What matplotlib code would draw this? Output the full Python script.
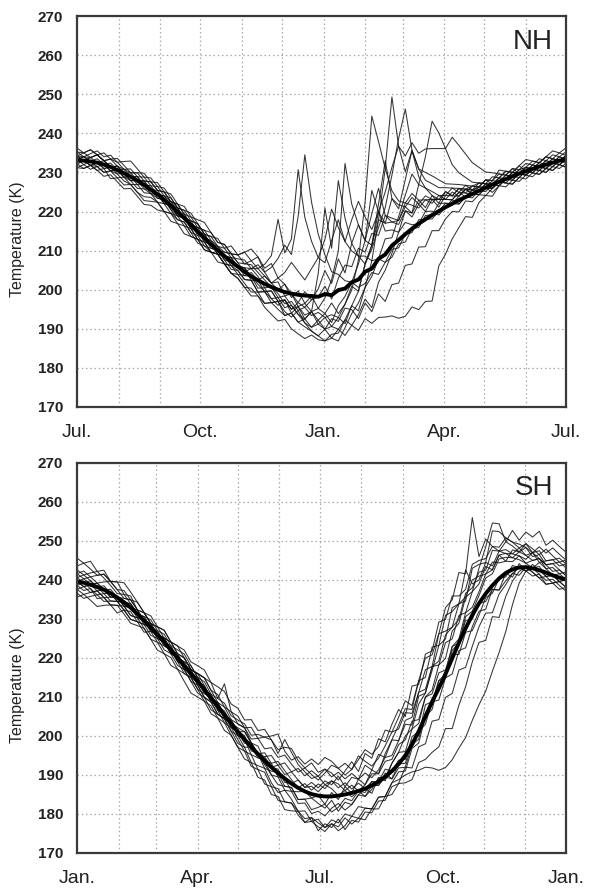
"""Daily polar temperature, individual years and their mean, NH and SH"""
import matplotlib
matplotlib.use('Agg')
import matplotlib.pyplot as plt
import numpy as np

plt.rcParams['font.family'] = ['Liberation Sans', 'DejaVu Sans']

# sample days (every 5 days through one year)
DAYS = np.arange(0, 366, 5)

# ── NH: year runs Jul -> Jul ──────────────────────────
NH_MONTH_DAYS = [0, 31, 62, 92, 123, 153, 184, 215, 243, 274, 304, 335, 365]
NH_TICK_DAYS = [0, 92, 184, 274, 365]
NH_TICK_LABELS = ['Jul.', 'Oct.', 'Jan.', 'Apr.', 'Jul.']

NH_MEAN = [
    233.2, 233.0, 232.8, 232.5, 232.0, 231.4, 230.6, 229.8, 228.9, 227.9, 226.8, 225.6,
    224.4, 223.0, 221.5, 219.9, 218.3, 216.6, 214.9, 213.2, 211.6, 210.1, 208.6, 207.2,
    205.9, 204.6, 203.4, 202.4, 201.5, 200.7, 200.0, 199.4, 199.0, 198.7, 198.5, 198.4,
    198.2, 198.9, 198.6, 199.9, 200.3, 201.9, 202.6, 204.6, 205.4, 207.9, 209.0, 211.3,
    212.7, 214.2, 215.6, 216.9, 218.0, 219.1, 220.1, 221.1, 222.0, 222.9, 223.7, 224.5,
    225.3, 226.1, 226.9, 227.6, 228.3, 229.0, 229.7, 230.3, 230.9, 231.5, 232.0, 232.5, 233.0, 233.3,
]

# departure of each year from the mean (K)
NH_YEAR_DEV = [
    [1, 1, 0, 1, 0, -1, -1, -2, -2, -3, -3, -2,
     -2, -3, -2, -2, -1, -2, -1, -2, -2, -1, -2, -3,
     -3, -4, -3, -4, -5, -4, -5, -6, -5, -7, -8, -9,
     -10, -9, -11, -10, -12, -11, -13, -12, -14, -15, -16, -18,
     -20, -21, -20, -22, -21, -22, -14, -12, -9, -7, -5, -6,
     -3, -2, -3, -1, -2, -1, 0, -1, 0, 1, 0, 1, 0, 1],
    [0, 1, 1, 2, 1, 2, 1, 1, 0, 1, 0, 0,
     1, 0, 1, 1, 2, 1, 2, 1, 0, 1, 1, 2,
     1, 2, 3, 2, 1, 0, -1, -3, -2, -4, -3, -5,
     -4, -6, -5, -7, -4, -2, 5, 18, 39, 30, 22, 14,
     10, 8, 9, 6, 5, 4, 3, 4, 2, 3, 2, 2,
     1, 2, 1, 0, 1, 0, 1, 2, 1, 0, 1, 0, 1, 0],
    [-1, 0, -1, 0, -1, 0, 0, -1, 0, 0, 1, 0,
     0, 1, 0, -1, 0, 0, 1, 0, 1, 0, -1, 0,
     0, 1, 0, -1, -2, -3, -2, -4, -3, -5, -6, -4,
     -7, -6, -8, -7, -9, -6, -8, -4, 2, 10, 22, 38,
     24, 16, 20, 14, 12, 10, 8, 6, 5, 4, 3, 2,
     2, 1, 2, 1, 0, 1, 0, -1, 0, -1, 0, -1, 0, 0],
    [2, 2, 3, 2, 3, 2, 2, 1, 2, 1, 2, 1,
     2, 1, 1, 2, 1, 0, 1, 2, 1, 1, 2, 1,
     2, 3, 2, 4, 3, 5, 8, 12, 10, 20, 36, 24,
     16, 10, 6, 4, 2, 0, -2, -3, -1, -4, -2, -3,
     -1, -2, 0, -1, 1, 0, 2, 1, 0, 1, 2, 1,
     1, 0, 1, 2, 1, 2, 1, 1, 2, 1, 2, 1, 2, 1],
    [0, -1, 0, -1, -2, -1, -2, -1, -1, -2, -1, -1,
     -1, 0, -1, -1, 0, -1, 0, 1, 0, -1, 0, 1,
     0, 1, 2, 3, 5, 8, 18, 10, 14, 32, 20, 14,
     10, 14, 22, 16, 12, 8, 6, 4, 2, 0, -2, -1,
     -2, 0, -1, 1, 0, -1, 0, 1, 0, -1, 0, 1,
     0, -1, 0, -1, 0, 1, 0, -1, 0, 0, -1, 0, -1, 0],
    [1, 0, 1, 0, 0, 1, 0, 1, 1, 0, 1, 2,
     1, 2, 1, 0, 1, 0, -1, 0, -1, 0, -1, -2,
     -1, -2, -1, -3, -2, -4, -3, -5, -6, -4, -7, -8,
     -6, -9, -8, -10, -8, -11, -9, -7, -10, -6, -4, -2,
     2, 6, 4, 10, 16, 24, 20, 15, 10, 7, 5, 3,
     2, 1, 0, 1, 0, -1, 0, -1, -2, -1, -2, -1, 0, -1],
    [-2, -2, -1, -2, -3, -2, -3, -4, -3, -4, -5, -4,
     -4, -3, -4, -3, -2, -3, -2, -1, -2, -1, 0, -1,
     0, -1, 1, 0, 2, 1, 3, 2, 0, -2, 1, -1,
     2, 6, 3, 8, 4, 10, 6, 2, 5, 8, 12, 18,
     26, 32, 20, 14, 10, 8, 6, 5, 4, 3, 2, 1,
     1, 0, -1, 0, -1, -2, -1, -2, -1, -2, -1, -2, -1, -2],
    [0, 1, 0, 0, -1, 0, 1, 0, -1, 0, 1, 0,
     0, -1, -2, -1, -2, -1, -2, -3, -2, -1, -2, -1,
     -2, -1, 0, -2, -1, -3, -4, -2, -5, -3, -6, -4,
     6, 22, 12, 28, 18, 10, 14, 8, 20, 12, 6, 4,
     2, 3, 1, 0, 2, 1, -1, 0, 1, -1, 0, -1,
     0, 1, -1, 0, 1, 0, -1, 0, 1, 0, -1, 0, 1, 0],
    [-1, -2, -1, -2, -1, -3, -2, -3, -2, -3, -4, -3,
     -2, -3, -2, -3, -4, -3, -2, -3, -2, -1, -2, -3,
     -3, -4, -5, -4, -6, -7, -8, -7, -9, -10, -11, -10,
     -11, -12, -10, -11, -8, -6, -3, 2, 6, 10, 8, 12,
     9, 7, 8, 5, 6, 4, 3, 2, 1, 2, 1, 0,
     -1, 0, -1, 0, -1, 0, 1, 0, -1, 0, 1, 0, -1, 0],
    [2, 1, 2, 3, 2, 3, 2, 3, 4, 3, 2, 3,
     2, 3, 2, 1, 2, 3, 2, 1, 2, 3, 2, 4,
     3, 5, 7, 6, 4, 6, 3, 5, 8, 6, 4, 7,
     10, 8, 14, 18, 12, 16, 20, 14, 10, 12, 8, 6,
     5, 7, 4, 6, 3, 5, 2, 4, 2, 3, 1, 2,
     1, 2, 1, 3, 2, 1, 2, 3, 2, 1, 2, 3, 2, 3],
    [0, 0, -1, 0, 1, 0, -1, 0, 0, -1, 0, -1,
     0, -1, 0, 1, 0, 1, 2, 1, 2, 1, 0, 1,
     0, 1, -1, 0, -2, -1, -3, -2, -4, -3, -5, -4,
     -6, -5, -7, -4, -2, 0, 4, 8, 6, 12, 16, 20,
     24, 20, 22, 18, 18, 17, 16, 15, 17, 14, 11, 8,
     6, 4, 3, 2, 1, 2, 0, 1, -1, 0, -1, 0, -1, 0],
    [1, 2, 1, 2, 1, 0, 1, 0, 1, 2, 1, 2,
     3, 2, 3, 2, 1, 2, 1, 2, 3, 2, 3, 2,
     1, 0, 2, 1, -1, 0, -2, -1, 0, -3, -2, -4,
     -3, -5, -2, -6, -4, -1, -3, 2, 6, 14, 24, 12,
     8, 14, 20, 12, 8, 6, 4, 3, 4, 2, 3, 1,
     2, 1, 0, 1, 2, 1, 0, 1, 0, 1, 2, 1, 0, 1],
    [-1, 0, -1, -1, 0, -1, 0, -1, -2, -1, -2, -1,
     -2, -1, 0, -1, 0, -1, -2, -1, -2, -3, -2, -3,
     -2, -3, -4, -3, -5, -4, -3, -6, -5, -7, -6, -8,
     -7, -9, -6, -8, -5, -7, -10, -8, -11, -9, -12, -10,
     -11, -8, -9, -6, -7, -4, -5, -3, -2, -3, -1, -2,
     -1, -2, -1, 0, -1, -2, -1, 0, -1, -2, -1, -2, -1, -2],
    [3, 2, 3, 2, 1, 2, 3, 2, 1, 2, 3, 2,
     1, 2, 1, 2, 3, 2, 3, 4, 3, 2, 3, 2,
     3, 2, 4, 3, 2, 1, 0, 2, -1, 1, -2, 0,
     -3, -1, 4, 10, 32, 20, 14, 8, 14, 18, 10, 6,
     4, 6, 3, 5, 2, 4, 1, 3, 2, 1, 2, 0,
     1, 2, 0, 1, 2, 1, 2, 0, 1, 2, 1, 2, 1, 2],
    [-2, -1, -2, -1, -2, -1, 0, -1, 0, 1, 0, 1,
     0, 1, 2, 1, 0, 1, 0, -1, 0, -1, -2, -1,
     -1, -2, -1, -3, -2, -1, -3, -2, -4, -2, -3, -1,
     0, 2, -1, 3, 6, 4, 8, 5, 9, 6, 10, 7,
     5, 8, 6, 4, 5, 3, 4, 2, 3, 1, 2, 0,
     -1, 0, -2, -1, 0, -1, -2, -1, 0, -1, -2, -1, -2, -1],
    [1, 0, 1, 2, 1, 0, 1, 0, -1, 0, -1, 0,
     -1, 0, -1, -2, -1, -2, -3, -2, -1, 0, 1, 2,
     3, 5, 4, 6, 3, 1, 2, -1, -3, -5, -7, -9,
     -10, -12, -11, -13, -10, -8, -6, -4, -2, 0, 4, 2,
     6, 10, 14, 10, 8, 5, 3, 2, 1, 2, 0, 1,
     0, 1, 0, -1, 0, 1, 0, 1, 0, -1, 0, 1, 0, 1],
]

# ── SH: year runs Jan -> Jan ──────────────────────────
SH_MONTH_DAYS = [0, 31, 59, 90, 120, 151, 181, 212, 243, 273, 304, 334, 365]
SH_TICK_DAYS = [0, 90, 181, 273, 365]
SH_TICK_LABELS = ['Jan.', 'Apr.', 'Jul.', 'Oct.', 'Jan.']

SH_MEAN = [
    239.6, 239.3, 238.8, 238.2, 237.5, 236.6, 235.5, 234.3, 232.9, 231.3, 229.6, 227.8,
    226.0, 224.1, 222.1, 220.1, 218.0, 216.0, 214.0, 211.9, 209.7, 207.6, 205.4, 203.2,
    201.1, 199.1, 197.2, 195.4, 193.7, 192.0, 190.5, 189.1, 187.8, 186.7, 185.8, 185.1,
    184.7, 184.5, 184.5, 184.7, 185.0, 185.4, 185.9, 186.5, 187.3, 188.3, 189.5, 191.0,
    192.8, 195.0, 197.8, 201.2, 205.0, 208.8, 212.2, 215.9, 219.9, 223.9, 227.6, 231.0,
    234.0, 236.5, 238.6, 240.4, 241.8, 242.7, 243.2, 243.3, 243.0, 242.5, 241.9, 241.2, 240.6, 240.1,
]

SH_YEAR_DEV = [
    [-1, -2, -1, -3, -2, -3, -2, -3, -4, -3, -2, -3,
     -2, -3, -4, -3, -4, -5, -4, -3, -4, -3, -2, -3,
     -4, -3, -5, -4, -6, -5, -7, -6, -5, -6, -7, -6,
     -7, -8, -6, -7, -5, -6, -4, -5, -6, -4, -5, -3,
     -4, -5, -7, -10, -13, -17, -21, -24, -26, -27, -28, -27,
     -26, -25, -22, -19, -15, -9, -4, -1, 0, 1, -1, 0, -1, 0],
    [1, 0, 1, 0, -1, 0, -1, 0, 1, 0, -1, 0,
     1, 0, -1, 0, 1, 0, -1, -2, -1, -2, -1, -2,
     -3, -2, -4, -3, -2, -4, -5, -3, -4, -6, -5, -7,
     -6, -8, -7, -9, -8, -6, -7, -8, -6, -7, -5, -6,
     -5, -7, -9, -8, -11, -13, -15, -14, -18, -16, -15, -12,
     -10, -12, -8, -10, -6, -3, -1, 0, -1, -2, -1, -2, -1, -2],
    [4, 5, 4, 3, 4, 3, 4, 5, 4, 3, 2, 3,
     2, 3, 2, 1, 2, 1, 2, 3, 2, 3, 2, 1,
     2, 3, 2, 4, 3, 5, 4, 6, 5, 4, 6, 5,
     4, 6, 8, 7, 5, 6, 8, 10, 8, 9, 12, 10,
     12, 14, 10, 13, 15, 12, 14, 17, 15, 18, 14, 25,
     12, 14, 10, 8, 9, 7, 6, 5, 4, 5, 3, 4, 5, 4],
    [0, -1, 0, 1, 0, -1, 0, -1, -2, -1, 0, -1,
     0, 1, 0, -1, 0, 1, 2, 1, 0, 1, 0, -1,
     0, 1, -1, 0, -2, -1, 0, -2, -1, -3, -2, -1,
     -2, -3, -1, -4, -2, -3, -1, 0, -2, 1, -1, 2,
     3, 1, 4, 2, 5, 3, 6, 4, 7, 5, 8, 6,
     9, 12, 16, 14, 8, 6, 4, 3, 2, 3, 1, 2, 1, 2],
    [-2, -3, -2, -1, -2, -1, 0, -1, 0, 1, 0, -1,
     0, -1, 0, 1, 2, 1, 2, 3, 2, 1, 2, 3,
     4, 3, 5, 4, 6, 8, 10, 7, 6, 8, 7, 9,
     8, 10, 9, 7, 8, 6, 9, 7, 5, 6, 8, 10,
     9, 11, 8, 10, 7, 9, 6, 8, 5, 7, 4, 6,
     5, 7, 4, 6, 3, 5, 4, 6, 5, 4, 6, 5, 4, 5],
    [2, 3, 2, 3, 4, 3, 2, 3, 2, 1, 2, 1,
     0, 1, 0, -1, -2, -1, -2, -3, -2, -3, -4, -3,
     -4, -5, -4, -6, -5, -7, -6, -8, -7, -6, -8, -7,
     -8, -9, -7, -8, -6, -8, -7, -5, -6, -4, -5, -3,
     -2, -4, -1, -3, 0, -2, 1, -1, 2, 0, 3, 1,
     2, 4, 3, 5, 4, 3, 2, 1, 0, -1, -2, -1, -2, -3],
    [0, 1, 2, 1, 2, 3, 2, 1, 2, 3, 2, 1,
     2, 1, 2, 3, 2, 1, 2, 3, 4, 2, 8, 3,
     2, 3, 1, 2, 0, 1, -1, 0, -2, -1, 0, -1,
     0, -2, 1, -1, 2, 0, 3, 1, 4, 2, 6, 8,
     10, 12, 9, 13, 10, 14, 11, 15, 12, 10, 8, 9,
     7, 5, 6, 4, 3, 2, 3, 1, 2, 3, 2, 1, 2, 1],
    [-3, -4, -3, -2, -3, -2, -1, -2, -1, -2, -1, 0,
     -1, 0, 1, 0, 1, 2, 1, 0, 1, 2, 3, 2,
     3, 4, 3, 5, 6, 7, 5, 10, 8, 6, 5, 4,
     5, 3, 4, 2, 3, 1, 2, 0, 1, -1, 0, -2,
     -1, -3, 0, -2, 1, -1, 2, 0, 3, 1, 4, 2,
     3, 5, 4, 6, 5, 3, 4, 5, 3, 4, 2, 3, 2, 1],
    [3, 2, 3, 4, 3, 2, 1, 2, 1, 0, 1, 0,
     -1, 0, -1, -2, -1, -2, -3, -2, -1, -2, -1, 0,
     -1, 0, 1, 0, -1, 0, 1, -1, 0, 2, 1, 3,
     2, 4, 3, 5, 2, 4, 3, 6, 4, 7, 5, 8,
     6, 9, 7, 10, 12, 9, 14, 11, 8, 10, 7, 12,
     10, 8, 14, 12, 9, 7, 5, 6, 4, 6, 5, 7, 6, 5],
    [1, 2, 1, 0, 1, 0, -1, 0, 1, 0, 1, 2,
     1, 2, 1, 2, 3, 2, 1, 0, -1, 0, 1, 0,
     -1, 0, -2, -1, 0, -2, -3, -2, -1, -3, -2, -4,
     -3, -2, -4, -3, -1, -2, 0, -1, 1, 0, 2, 0,
     1, -1, 2, 0, -2, 0, -3, -1, -4, -2, -5, -3,
     -2, -4, -1, -3, 0, -2, 1, -1, 0, 2, 1, 0, -1, 0],
    [6, 5, 6, 4, 5, 3, 4, 2, 3, 1, 2, 1,
     0, 1, -1, 0, -1, -2, -1, -2, -3, -2, -1, -2,
     -1, -2, 0, -1, 1, 0, 2, 1, 3, 2, 1, 2,
     1, 3, 2, 0, 1, -1, 0, -2, -1, 1, 0, 2,
     3, 5, 4, 7, 6, 9, 7, 10, 8, 6, 9, 7,
     8, 6, 9, 7, 8, 10, 7, 9, 8, 10, 7, 9, 8, 7],
    [-4, -3, -4, -5, -4, -3, -4, -2, -3, -2, -3, -1,
     -2, -1, 0, -1, 0, 1, 0, -1, 0, -1, -2, -1,
     -2, -3, -2, -4, -3, -5, -4, -6, -5, -7, -8, -6,
     -9, -7, -8, -6, -9, -7, -8, -6, -7, -5, -6, -4,
     -5, -3, -6, -4, -7, -5, -8, -6, -9, -7, -10, -8,
     -6, -5, -7, -4, -3, -1, -2, 0, -1, -2, -3, -2, -3, -2],
    [0, -1, -2, -1, 0, 1, 0, 1, 2, 1, 0, 1,
     2, 3, 2, 1, 0, -1, 0, 1, 0, -1, 0, -1,
     0, -1, 1, 0, 2, 1, 3, 2, 1, 0, 2, 1,
     3, 2, 4, 3, 1, 2, 0, 1, 3, 2, 4, 3,
     5, 4, 6, 3, 5, 2, 4, 1, 3, 0, 2, -1,
     0, -2, -1, -3, -2, -1, 0, -1, -2, -1, -3, -2, -1, -2],
    [-1, 0, -1, -2, -1, -2, -1, -2, -3, -2, -1, -2,
     -1, -2, -1, 0, -1, 0, 1, 2, 1, 0, -1, 0,
     1, 2, 1, 0, 1, 3, 2, 4, 3, 5, 4, 6,
     5, 7, 6, 4, 6, 8, 5, 9, 7, 11, 9, 12,
     14, 10, 15, 12, 16, 13, 17, 14, 16, 12, 10, 13,
     11, 9, 10, 7, 5, 4, 3, 2, 4, 3, 2, 3, 4, 3],
    [-2, -1, 0, -1, -2, -3, -2, -1, -2, -1, -2, -3,
     -4, -3, -2, -3, -2, -1, -2, -1, 0, 1, 0, 1,
     0, 2, 1, 0, -1, -2, -1, -3, -2, -4, -3, -5,
     -4, -5, -3, -2, -4, -3, -1, -2, 0, -1, 1, -2,
     0, -2, 1, -1, 3, 0, 2, -1, 1, -3, -1, -4,
     -3, -1, -2, 0, -1, 1, 0, -1, 1, 0, -1, 0, 1, 0],
    [2, 1, 0, 1, 0, -1, 0, -1, 0, -1, 0, 1,
     0, 1, 2, 3, 4, 3, 4, 5, 4, 5, 6, 5,
     6, 5, 7, 6, 8, 7, 6, 8, 9, 7, 6, 8,
     6, 7, 5, 6, 4, 5, 3, 4, 2, 3, 5, 4,
     6, 8, 5, 9, 6, 8, 11, 9, 13, 10, 15, 8,
     6, 8, 5, 7, 6, 4, 5, 3, 4, 2, 3, 4, 3, 4],
]

Y_TICKS = [170, 180, 190, 200, 210, 220, 230, 240, 250, 260, 270]

for grp in (NH_YEAR_DEV, SH_YEAR_DEV):
    for row in grp:
        assert len(row) == len(DAYS), len(row)
assert len(NH_MEAN) == len(DAYS) and len(SH_MEAN) == len(DAYS)


def draw_panel(ax, mean, devs, month_days, tick_days, tick_labels, tag):
    mean = np.array(mean)
    for dev in devs:
        ax.plot(DAYS, mean + np.array(dev), color='#111111', lw=0.75, alpha=0.85)
    ax.plot(DAYS, mean, color='black', lw=2.8, solid_capstyle='round')

    ax.set_xlim(0, 365)
    ax.set_ylim(170, 270)
    ax.set_yticks(Y_TICKS)
    ax.set_yticklabels([str(v) for v in Y_TICKS], fontsize=11, fontweight='bold',
                       color='#222222')
    ax.set_xticks(tick_days)
    ax.set_xticklabels(tick_labels, fontsize=14, color='#222222')
    ax.set_xticks(month_days, minor=True)
    ax.tick_params(axis='both', which='both', length=0)
    ax.tick_params(axis='x', pad=12)
    ax.tick_params(axis='y', pad=10)

    # light dotted grid: months across, 10 K up
    ax.set_axisbelow(True)
    ax.grid(which='both', axis='x', color='#a8a8a8', lw=0.9, linestyle=(0, (1.2, 2.2)))
    ax.grid(which='major', axis='y', color='#a8a8a8', lw=0.9, linestyle=(0, (1.2, 2.2)))

    for spine in ax.spines.values():
        spine.set_edgecolor('#3a3a3a')
        spine.set_linewidth(1.6)

    ax.set_ylabel('Temperature (K)', fontsize=11.5, color='#222222')
    ax.yaxis.set_label_coords(-0.107, 0.43)
    ax.text(0.973, 0.968, tag, transform=ax.transAxes, ha='right', va='top',
            fontsize=20, color='#222222')


fig = plt.figure(figsize=(5.93, 8.90), dpi=100)
ax_nh = fig.add_axes([0.130, 0.5427, 0.8246, 0.4393])
ax_sh = fig.add_axes([0.130, 0.0416, 0.8246, 0.4382])

draw_panel(ax_nh, NH_MEAN, NH_YEAR_DEV, NH_MONTH_DAYS, NH_TICK_DAYS, NH_TICK_LABELS, 'NH')
draw_panel(ax_sh, SH_MEAN, SH_YEAR_DEV, SH_MONTH_DAYS, SH_TICK_DAYS, SH_TICK_LABELS, 'SH')

fig.savefig('out.png', dpi=100, facecolor='white')
